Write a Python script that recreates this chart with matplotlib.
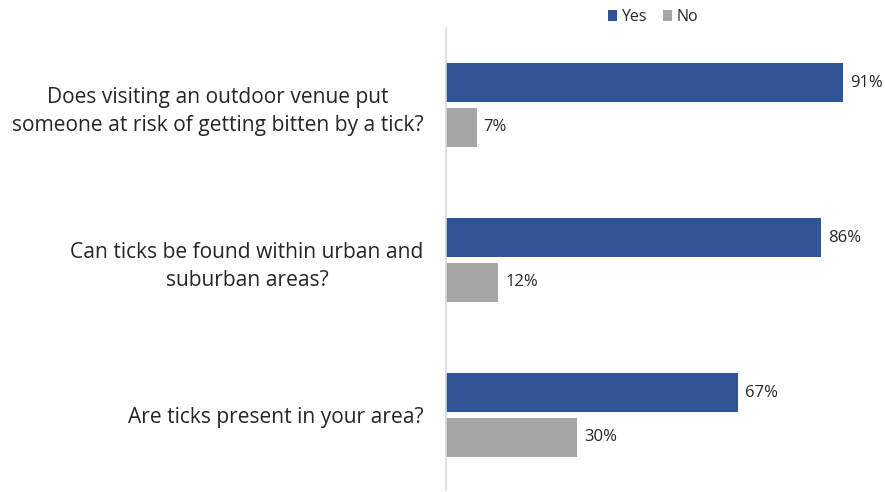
import matplotlib.pyplot as plt
import numpy as np

plt.rcParams['font.family'] = ['Open Sans', 'DejaVu Sans']

questions = [
    'Does visiting an outdoor venue put\nsomeone at risk of getting bitten by a tick?',
    'Can ticks be found within urban and\nsuburban areas?',
    'Are ticks present in your area?',
]
yes_pct = [91, 86, 67]
no_pct = [7, 12, 30]

yes_color = '#2f5597'
no_color = '#a6a6a6'
text_color = '#262626'

fig = plt.figure(figsize=(8.85, 4.92), dpi=100)
ax = fig.add_axes([446 / 885, 1 - 490 / 492, 436 / 885, 462 / 492])

y = np.arange(len(questions))
bar_h = 0.25
offset = 0.145
yes_bars = ax.barh(y - offset, yes_pct, height=bar_h, color=yes_color, label='Yes')
no_bars = ax.barh(y + offset, no_pct, height=bar_h, color=no_color, label='No')

for bars, vals in ((yes_bars, yes_pct), (no_bars, no_pct)):
    for b, v in zip(bars, vals):
        ax.text(b.get_width() + 1.6, b.get_y() + b.get_height() / 2, f'{v}%',
                va='center', ha='left', fontsize=12, color=text_color)

ax.set_xlim(0, 100)
ax.set_ylim(2.484, -0.497)
ax.set_yticks(y)
ax.set_yticklabels(questions, fontsize=15.1, color=text_color, linespacing=1.44,
                   multialignment='center')
ax.tick_params(axis='y', length=0, pad=16)
ax.set_xticks([])
for side in ('top', 'right', 'bottom'):
    ax.spines[side].set_visible(False)
ax.spines['left'].set_color('#d9d9d9')
ax.spines['left'].set_linewidth(1.2)

fig.legend(handles=[yes_bars, no_bars], loc='center', bbox_to_anchor=(653 / 885, 1 - 17 / 492),
           ncol=2, frameon=False, fontsize=11.5, handlelength=0.55, handleheight=0.7,
           handletextpad=0.3, columnspacing=1.0, labelcolor=text_color)

fig.savefig('out.png', dpi=100)
